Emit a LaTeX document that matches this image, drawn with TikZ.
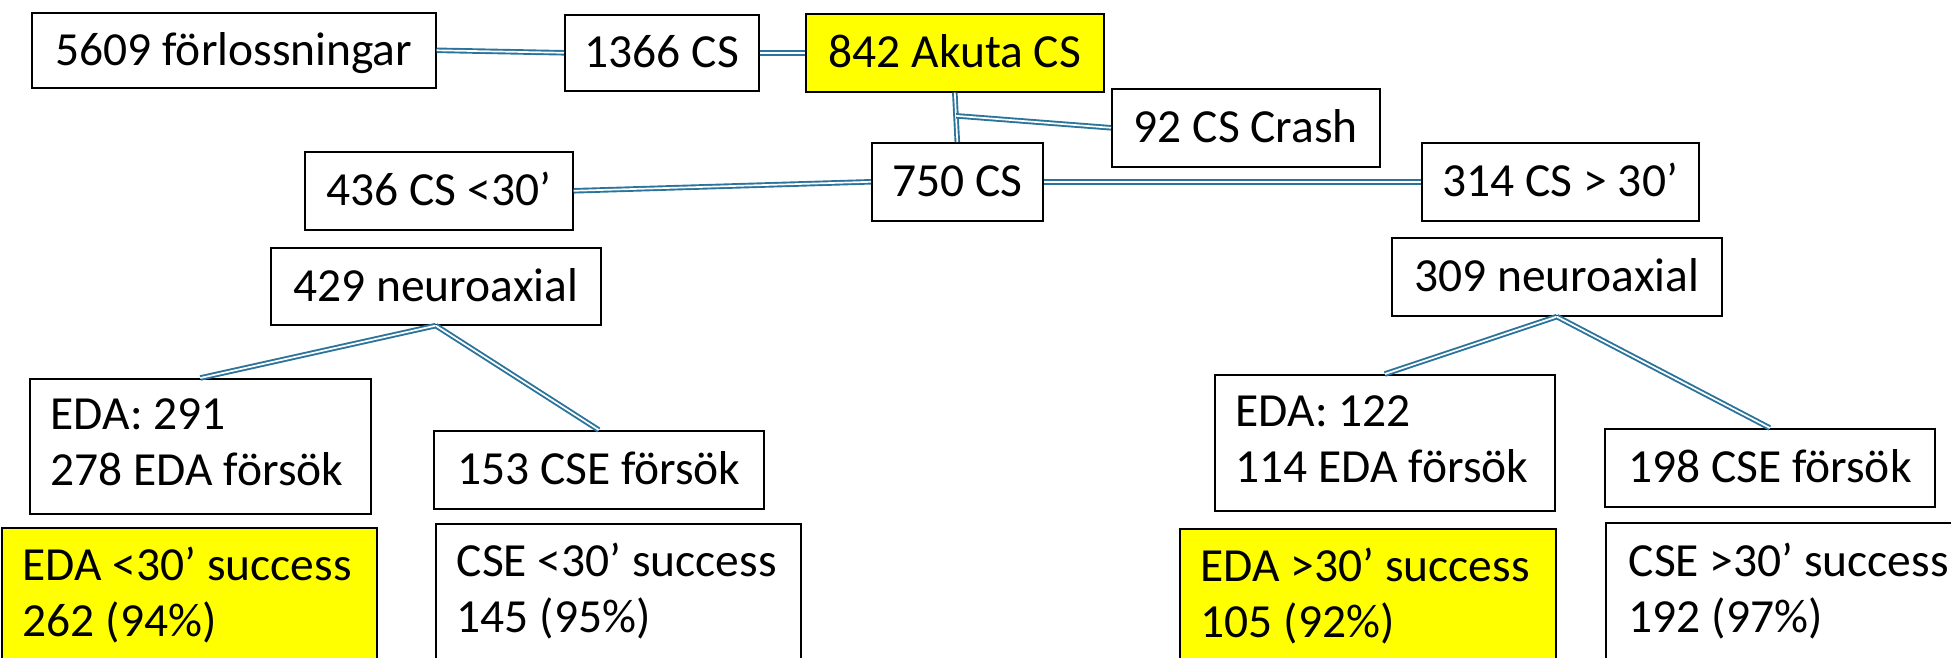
\documentclass[tikz,border=0pt]{standalone}
\usepackage{fontspec}
\setmainfont{Carlito}
\usetikzlibrary{calc}
\definecolor{linkblue}{RGB}{42,116,156}
\definecolor{hiyellow}{RGB}{255,255,0}
\newcommand{\twolines}[3]{\spaceskip=0pt\xspaceskip=0pt\makebox[#1][l]{\begin{tabular}{@{}l@{}}#2\\#3\end{tabular}}}
\tikzset{
  box/.style={draw=black, line width=1.6pt, fill=white, inner sep=0pt,
    font=\fontsize{47.5}{56}\selectfont, anchor=north west},
  one/.style={box, text height=38pt, text depth=8.4pt},
  multi/.style={box, inner xsep=21pt},
  hilite/.style={fill=hiyellow},
  conn/.style={draw=linkblue, double=white, line width=1.9pt, double distance=1.7pt}
}
\begin{document}
\begin{tikzpicture}[x=1pt,y=-1pt]
\useasboundingbox (0,0) rectangle (1951,658);
% top row
\node[one, minimum width=404pt, minimum height=75pt] (n5609) at (31,12) {5609 förlossningar};
\node[one, minimum width=194pt, minimum height=76pt] (n1366) at (564,14) {1366 CS};
\node[one, hilite, minimum width=298pt, minimum height=78pt] (n842) at (805,13) {842 Akuta CS};
\node[one, minimum width=268pt, minimum height=78pt] (crash) at (1111,88) {92 CS Crash};
\node[one, minimum width=171pt, minimum height=78pt] (n750) at (871,142) {750 CS};
\node[one, minimum width=268pt, minimum height=78pt] (n436) at (304,151) {436 CS <30’};
\node[one, minimum width=277pt, minimum height=78pt] (n314) at (1421,142) {314 CS > 30’};
\node[one, minimum width=330pt, minimum height=77pt] (n429) at (270,247) {429 neuroaxial};
\node[one, minimum width=330pt, minimum height=78pt] (n309) at (1391,237) {309 neuroaxial};
% attempts
\node[multi, minimum width=341pt, minimum height=135pt] (eda291) at (29,378) {\twolines{299pt}{EDA: 291}{278 EDA försök}};
\node[one, minimum width=330pt, minimum height=78pt] (cse153) at (433,430) {153 CSE försök};
\node[multi, minimum width=340pt, minimum height=136pt] (eda122) at (1214,374) {\twolines{298pt}{EDA: 122}{114 EDA försök}};
\node[one, minimum width=330pt, minimum height=78pt] (cse198) at (1604,428) {198 CSE försök};
% success
\node[multi, hilite, minimum width=375pt, minimum height=138pt] (edaS1) at (1,527) {\twolines{333pt}{EDA <30’ success}{262 (94\%)}};
\node[multi, minimum width=365pt, minimum height=139pt] (cseS1) at (435,523) {\twolines{323pt}{CSE <30’ success}{145 (95\%)}};
\node[multi, hilite, minimum width=376pt, minimum height=138pt] (edaS2) at (1179,528) {\twolines{334pt}{EDA >30’ success}{105 (92\%)}};
\node[multi, inner xsep=23pt, minimum width=380pt, minimum height=140pt] (cseS2) at (1605,522) {\twolines{334pt}{CSE >30’ success}{192 (97\%)}};
% connectors
\draw[conn] (n5609.east) -- (n1366.west);
\draw[conn] (n1366.east) -- (n842.west);
\draw[conn] (n842.south) -- (n750.north);
\coordinate (split) at ($(n842.south)!0.47!(n750.north)$);
\draw[conn] (split) -- (crash.west);
\draw[conn] (n750.west) -- (n436.east);
\draw[conn] (n750.east) -- (n314.west);
\draw[conn] (n429.south) -- (eda291.north);
\draw[conn] (n429.south) -- (cse153.north);
\draw[conn] (n309.south) -- (eda122.north);
\draw[conn] (n309.south) -- (cse198.north);
\end{tikzpicture}
\end{document}
